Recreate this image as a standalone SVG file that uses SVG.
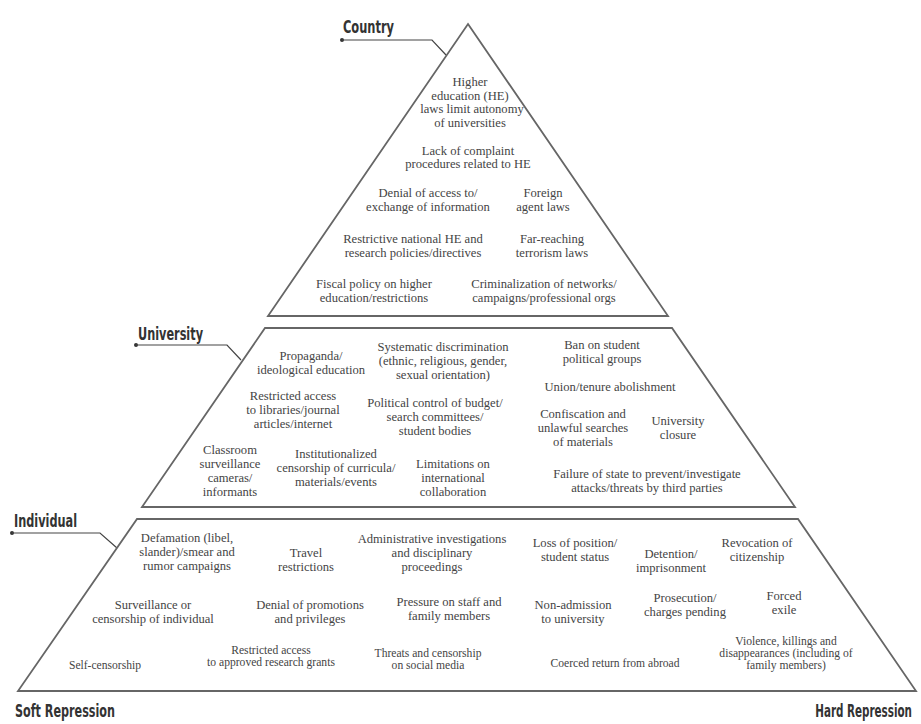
<svg xmlns="http://www.w3.org/2000/svg" width="921" height="724" viewBox="0 0 921 724">
<style>
.shape{fill:none;stroke:#666;stroke-width:1.8;stroke-linejoin:miter}
.lead{fill:none;stroke:#444;stroke-width:1.2}
.t{font-family:"Liberation Serif","Times New Roman",serif;font-size:12.6px;fill:#444;text-anchor:middle}
.s{font-size:11.6px}
.lbl{font-family:"DejaVu Sans Condensed","DejaVu Sans",sans-serif;font-weight:bold;font-size:17px;fill:#333}
.big{font-size:18px}
</style>
<rect width="921" height="724" fill="#fff"/>
<g id="connectors">
<circle cx="342" cy="40" r="2" fill="#333"/>
<polyline class="lead" points="342,40 432,40 446,55"/>
<circle cx="136" cy="345" r="2" fill="#333"/>
<polyline class="lead" points="136,345 227,345 241,360"/>
<circle cx="12" cy="533" r="2" fill="#333"/>
<polyline class="lead" points="12,533 100,533 117,548"/>
</g>
<g id="country">
<polygon class="shape" points="468,24 668,316 268,316"/>
<text class="lbl" x="343" y="33" textLength="51" lengthAdjust="spacingAndGlyphs">Country</text>
<text class="t" x="470" y="86">Higher</text>
<text class="t" x="470" y="100">education (HE)</text>
<text class="t" x="472" y="113">laws limit autonomy</text>
<text class="t" x="470" y="127">of universities</text>
<text class="t" x="468" y="155">Lack of complaint</text>
<text class="t" x="468" y="168">procedures related to HE</text>
<text class="t" x="428" y="197">Denial of access to/</text>
<text class="t" x="428" y="211">exchange of information</text>
<text class="t" x="543" y="197">Foreign</text>
<text class="t" x="543" y="211">agent laws</text>
<text class="t" x="413" y="243">Restrictive national HE and</text>
<text class="t" x="413" y="257">research policies/directives</text>
<text class="t" x="552" y="243">Far-reaching</text>
<text class="t" x="552" y="257">terrorism laws</text>
<text class="t" x="374" y="288">Fiscal policy on higher</text>
<text class="t" x="374" y="302">education/restrictions</text>
<text class="t" x="544" y="288">Criminalization of networks/</text>
<text class="t" x="544" y="302">campaigns/professional orgs</text>
</g>
<g id="university">
<polygon class="shape" points="265,328 672,328 795,507 142,507"/>
<text class="lbl" x="138" y="340" textLength="65" lengthAdjust="spacingAndGlyphs">University</text>
<text class="t" x="311" y="360">Propaganda/</text>
<text class="t" x="311" y="374">ideological education</text>
<text class="t" x="443" y="351">Systematic discrimination</text>
<text class="t" x="443" y="365">(ethnic, religious, gender,</text>
<text class="t" x="443" y="379">sexual orientation)</text>
<text class="t" x="602" y="349">Ban on student</text>
<text class="t" x="602" y="363">political groups</text>
<text class="t" x="610" y="391">Union/tenure abolishment</text>
<text class="t" x="293" y="400">Restricted access</text>
<text class="t" x="293" y="414">to libraries/journal</text>
<text class="t" x="293" y="428">articles/internet</text>
<text class="t" x="435" y="407">Political control of budget/</text>
<text class="t" x="435" y="421">search committees/</text>
<text class="t" x="435" y="435">student bodies</text>
<text class="t" x="583" y="418">Confiscation  and</text>
<text class="t" x="583" y="432">unlawful searches</text>
<text class="t" x="583" y="446">of materials</text>
<text class="t" x="678" y="425">University</text>
<text class="t" x="678" y="439">closure</text>
<text class="t" x="230" y="454">Classroom</text>
<text class="t" x="230" y="468">surveillance</text>
<text class="t" x="230" y="482">cameras/</text>
<text class="t" x="230" y="496">informants</text>
<text class="t" x="336" y="458">Institutionalized</text>
<text class="t" x="336" y="472">censorship of curricula/</text>
<text class="t" x="336" y="486">materials/events</text>
<text class="t" x="453" y="468">Limitations on</text>
<text class="t" x="453" y="482">international</text>
<text class="t" x="453" y="496">collaboration</text>
<text class="t" x="647" y="478">Failure of state to prevent/investigate</text>
<text class="t" x="647" y="492">attacks/threats by third parties</text>
</g>
<g id="individual">
<polygon class="shape" points="137,519 798,519 916,691 18,691"/>
<text class="lbl" x="14" y="527" textLength="63" lengthAdjust="spacingAndGlyphs">Individual</text>
<text class="t" x="187" y="542">Defamation (libel,</text>
<text class="t" x="187" y="556">slander)/smear and</text>
<text class="t" x="187" y="570">rumor campaigns</text>
<text class="t" x="306" y="557">Travel</text>
<text class="t" x="306" y="571">restrictions</text>
<text class="t" x="432" y="543">Administrative investigations</text>
<text class="t" x="432" y="557">and disciplinary</text>
<text class="t" x="432" y="571">proceedings</text>
<text class="t" x="575" y="547">Loss of position/</text>
<text class="t" x="575" y="561">student status</text>
<text class="t" x="671" y="558">Detention/</text>
<text class="t" x="671" y="572">imprisonment</text>
<text class="t" x="757" y="547">Revocation of</text>
<text class="t" x="757" y="561">citizenship</text>
<text class="t" x="153" y="609">Surveillance or</text>
<text class="t" x="153" y="623">censorship of individual</text>
<text class="t" x="310" y="609">Denial of promotions</text>
<text class="t" x="310" y="623">and privileges</text>
<text class="t" x="449" y="606">Pressure on staff and</text>
<text class="t" x="449" y="620">family members</text>
<text class="t" x="573" y="609">Non-admission</text>
<text class="t" x="573" y="623">to university</text>
<text class="t" x="685" y="602">Prosecution/</text>
<text class="t" x="685" y="616">charges pending</text>
<text class="t" x="784" y="600">Forced</text>
<text class="t" x="784" y="614">exile</text>
<text class="t s" x="105" y="669">Self-censorship</text>
<text class="t s" x="271" y="654">Restricted access</text>
<text class="t s" x="271" y="666">to approved research grants</text>
<text class="t s" x="428" y="657">Threats and censorship</text>
<text class="t s" x="428" y="669">on social media</text>
<text class="t s" x="615" y="667">Coerced return from abroad</text>
<text class="t s" x="786" y="645">Violence, killings and</text>
<text class="t s" x="786" y="657">disappearances (including of</text>
<text class="t s" x="786" y="669">family members)</text>
</g>
<text class="lbl big" x="15" y="717" textLength="100" lengthAdjust="spacingAndGlyphs">Soft Repression</text>
<text class="lbl big" transform="translate(912,717) scale(0.64,1)" x="0" y="0" text-anchor="end">Hard Repression</text>
</svg>
